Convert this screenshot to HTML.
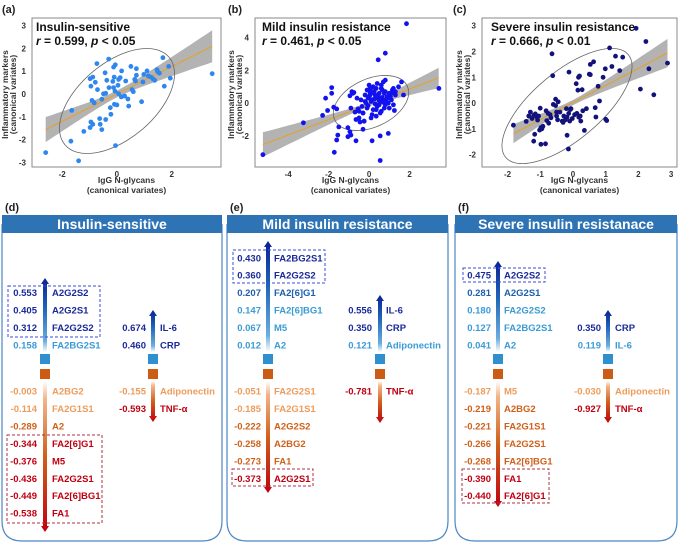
<!DOCTYPE html>
<html><head><meta charset="utf-8"><style>
body{margin:0;background:#fff;}
svg{display:block;font-family:"Liberation Sans",Arial,sans-serif;}
.tk{font-size:8px;font-weight:bold;fill:#333;}
.at{font-size:8.5px;font-weight:bold;fill:#333;}
.tt{font-size:12px;font-weight:bold;fill:#111;}
.pl{font-size:11px;font-weight:bold;fill:#222;}
.hd{font-size:14px;font-weight:bold;fill:#fff;}
.v{font-size:9.5px;font-weight:bold;}
</style></head><body>
<svg id="fig" width="678" height="543" viewBox="0 0 678 543" xmlns="http://www.w3.org/2000/svg">
<defs>
<linearGradient id="gUp" x1="0" y1="1" x2="0" y2="0"><stop offset="0" stop-color="#ffffff"/><stop offset="0.15" stop-color="#6aaee0"/><stop offset="0.6" stop-color="#1e64b8"/><stop offset="1" stop-color="#0c1f95"/></linearGradient>
<linearGradient id="gDn" x1="0" y1="0" x2="0" y2="1"><stop offset="0" stop-color="#ffffff"/><stop offset="0.12" stop-color="#f2b58a"/><stop offset="0.5" stop-color="#d0601a"/><stop offset="1" stop-color="#c00010"/></linearGradient>
</defs>
<g id="topGroup"></g>
<g id="bottomGroup"></g>
</svg>
<script>
// ---------- scatter data ----------
const aX=[-2.6,-1.4,-1.68,-1.65,-1.21,-0.73,-0.3,-0.05,3.48,1.68,1.89,1.95,1.73,-0.98,-0.88,-0.95,-0.91,-0.83,-0.95,-0.88,-0.98,-0.61,-0.55,-0.63,-0.41,-0.22,-0.24,-0.43,-0.37,-0.29,-0.49,-0.41,-0.55,-0.71,-0.79,-0.12,-0.06,-0.1,-0.15,-0.12,-0.07,0.06,0.17,0.32,0.12,0.06,-0.09,0,0.16,0.28,0.4,0.43,0.55,0.6,0.65,0.68,0.71,0.71,0.98,1.1,0.95,0.9,1.15,1.24,1.32,1.38,1.46,1.49,1.55,0.51,0.04];
const aY=[-2.57,-2.93,-2.07,-0.72,-1.64,1.33,1.53,-2.26,0.89,1.59,1.21,0.69,0.34,0.67,0.74,0.34,-0.28,-0.39,-1.23,-1.33,-1.47,-1.33,-1.56,-1.08,-1.12,-0.89,-0.6,0.93,0.6,0.28,0.01,0.03,-0.23,0.19,0.51,1.18,1.28,0.74,0.55,0.28,0.12,0.64,1.01,0.57,0.72,0.01,-0.45,-0.48,-0.13,-0.09,-0.22,-0.53,0.19,0.1,0.64,0.57,0.82,1.11,0.86,1.01,0.53,-0.34,0.79,0.74,0.66,0.6,1.07,0.98,0.91,1.21,0.38];
const bX=[-5.25,-3.25,3.45,1.85,0.8,0.45,0.55,-1.72,0.15,0.95,0.55,-0.3,-1.85,-1.85,-2.15,-2.05,-2.3,-1.75,-1.6,-1.5,-1.55,-1.6,-1.05,-0.95,-0.9,-1.05,-0.65,-0.7,-0.9,-0.55,-0.5,-0.45,-0.25,-0.3,-0.85,-0.8,-0.95,-0.6,-0.4,-0.2,-0.1,0,0.05,0.1,0.2,0.3,0.4,0.5,0.6,0.7,0.8,0.9,1.0,1.1,1.2,1.3,1.45,1.7,-0.05,0.05,0.15,0.25,0.35,0.45,0.55,0.65,0.75,0.85,0.95,1.05,1.15,-0.35,-0.15,0.1,0.3,0.5,0.7,0.9,1.1,1.3,-0.5,-0.3,-0.1,0.2,0.4,0.6,0.8,1.0,1.2,0.0,0.2,0.4,0.6,0.8,-0.2,0.15,0.35,0.55,0.75,0.25,0.45,0.65,0.05,-0.05,0.3,0.5,0.7,0.9,1.25,1.6,-0.65,-0.75,0.1,-0.25,0.35];
const bY=[-3.15,-1.2,0.9,4.85,3.05,2.65,-3.5,-3.0,-2.3,-1.85,-2.0,-1.6,0.95,0.6,0.3,-0.45,-0.75,-0.25,-0.35,-1.45,-1.95,-2.25,-1.5,-1.75,-1.95,-2.05,-2.3,-0.55,-0.3,-0.35,-0.9,-1.15,-1.1,-0.6,0.7,0.6,0.45,0.3,0.2,0.1,0.8,1.1,0.9,0.6,0.7,0.5,0.4,0.6,0.9,1.3,0.7,0.4,0.6,0.2,-0.1,0.5,1.0,0.5,0.3,0.5,0.2,0.7,0.9,0.3,0.1,0.8,0.6,0.2,0.0,0.4,0.8,-0.2,0.0,0.1,0.3,-0.1,0.2,0.0,0.6,0.7,-0.5,-0.6,-0.3,-0.4,-0.2,-0.5,-0.1,-0.3,0.9,0.4,1.0,1.2,1.1,1.4,0.5,-0.7,-0.8,-0.6,-0.3,0.25,0.45,0.35,0.65,-0.15,-0.05,0.15,0.05,0.3,-0.45,1.3,-1.0,0.65,-0.9,-1.1,-0.4];
const cX=[-1.82,-1.43,-1.2,-1.17,-1.3,-1.2,-1.15,-1.1,-1.05,-1.0,-1.25,-1.08,-0.95,-0.98,-0.92,-1.02,-0.98,-0.84,-0.8,-0.76,-0.7,-0.67,-0.82,-0.74,-0.64,-0.62,-0.53,-0.5,-0.47,-0.5,-0.18,-0.14,-0.12,-0.06,-0.13,-0.18,-0.1,-0.23,-0.33,-0.28,0.1,0.15,0.17,0.2,0.28,0.12,0.22,0.24,0.18,0.35,0.41,0.5,0.53,0.53,0.63,0.68,0.7,0.77,0.81,0.92,0.99,1.0,1.03,1.12,1.19,1.3,1.43,1.52,1.93,2.06,2.23,2.32,2.47,2.89,-0.53,-0.2,-0.08,-0.4,-0.6,-1.35,-0.02,0.05,-0.3,0.3,-0.45];
const cY=[-0.86,-0.71,-1.48,-1.21,-0.35,-0.48,-0.42,-0.55,-0.5,-0.2,-0.6,-0.66,-1.0,-0.95,-0.9,-1.05,-1.6,-1.58,-0.68,-0.4,-0.45,-0.57,-0.3,-0.78,1.91,1.06,-0.1,-0.35,-0.65,-0.5,-1.25,-1.78,1.2,-0.22,-0.4,-0.55,-0.7,-0.65,-0.7,-0.5,0.75,0.5,1.0,1.05,0.52,-0.4,-0.5,-0.7,-0.55,-1.06,-0.22,1.12,1.1,1.5,1.6,-0.18,-0.54,0.65,0.08,1.0,1.33,-0.63,-0.68,2.14,1.42,1.82,1.26,1.78,2.9,0.54,2.39,1.33,0.32,1.55,0.15,-0.22,-0.25,-0.35,-0.05,-0.5,-0.6,-0.45,-0.75,-0.3,0.05];
const aLine=[[-2.6,-1.56],[3.48,2.09]]; const aCI=[0.55,0.15,0.7];
const bLine=[[-5.25,-2.53],[3.44,1.54]]; const bCI=[0.75,0.12,0.62];
const cLine=[[-1.82,-1.19],[2.89,1.94]]; const cCI=[0.37,0.1,0.55];
const aXt=[-2,0,2], aYt=[-3,-2,-1,0,1,2,3];
const bXt=[-4,-2,0,2], bYt=[-2,0,2,4];
const cXt=[-2,-1,0,1,2,3], cYt=[-2,-1,0,1,2,3];

const NS="http://www.w3.org/2000/svg";
function mk(tag,attrs,parent,txt){const e=document.createElementNS(NS,tag);for(const k in attrs)e.setAttribute(k,attrs[k]);if(txt!==undefined)e.textContent=txt;parent.appendChild(e);return e;}

const panels=[
 {id:'a',L:32,R:221,T:18,B:167,x0:-3.1,x1:3.8,y0:-3.2,y1:3.33,X:aX,Y:aY,line:aLine,ci:aCI,xt:aXt,yt:aYt,col:'#2f86ef',title:'Insulin-sensitive',r:'0.599',p:'0.05',tx:36,ytl:2,lab:[2,13],ell:[117,101,68,38,-40]},
 {id:'b',L:255,R:446,T:18,B:167,x0:-5.64,x1:3.8,y0:-3.9,y1:5.2,X:bX,Y:bY,line:bLine,ci:bCI,xt:bXt,yt:bYt,col:'#1212ee',title:'Mild insulin resistance',r:'0.461',p:'0.05',tx:262,ytl:228,lab:[228,13],ell:[371,103,40,24,-25]},
 {id:'c',L:482,R:677,T:18,B:167,x0:-2.78,x1:3.18,y0:-2.48,y1:3.3,X:cX,Y:cY,line:cLine,ci:cCI,xt:cXt,yt:cYt,col:'#12127a',title:'Severe insulin resistance',r:'0.666',p:'0.01',tx:491,ytl:456,lab:[453,13],ell:[567,106,80,34,-40]}
];
const topG=document.getElementById('topGroup');
panels.forEach(P=>{
 const g=mk('g',{},topG);
 
 
 const sx=v=>P.L+(v-P.x0)/(P.x1-P.x0)*(P.R-P.L);
 const sy=v=>P.B-(v-P.y0)/(P.y1-P.y0)*(P.B-P.T);
 const lb=mk('text',{x:P.lab[0],y:P.lab[1],class:'pl'},g,'('+P.id+')');
 
 
 const p0=P.line[0], p1=P.line[1]; const sl=(p1[1]-p0[1])/(p1[0]-p0[0]);
 const n=30; let up=[],dn=[];
 for(let i=0;i<=n;i++){const x=p0[0]+(p1[0]-p0[0])*i/n;const y=p0[1]+sl*(x-p0[0]);
  const side=x<0?P.ci[0]:P.ci[2]; const ext=x<0?p0[0]:p1[0];
  const t=(x/ext); const hw=Math.sqrt(P.ci[1]*P.ci[1]+(side*side-P.ci[1]*P.ci[1])*t*t);
  up.push(sx(x).toFixed(1)+','+sy(y+hw).toFixed(1)); dn.unshift(sx(x).toFixed(1)+','+sy(y-hw).toFixed(1));}
 const band=mk('polygon',{points:up.concat(dn).join(' '),fill:'#9a9a9a','fill-opacity':'0.75'},g);
 
 
 const ln=mk('line',{x1:sx(p0[0]),y1:sy(p0[1]),x2:sx(p1[0]),y2:sy(p1[1]),stroke:'#e8a020','stroke-width':1},g);
 
 
 const e=P.ell;
 const el=mk('ellipse',{cx:e[0],cy:e[1],rx:e[2],ry:e[3],fill:'none',stroke:'#666','stroke-width':0.8,transform:'rotate('+e[4]+' '+e[0]+' '+e[1]+')'},g);
 
 
 P.X.forEach((x,i)=>{const c=mk('circle',{cx:sx(x).toFixed(1),cy:sy(P.Y[i]).toFixed(1),r:2.4,fill:P.col},g);
  
  });
 const fr=mk('rect',{x:P.L,y:P.T,width:P.R-P.L,height:P.B-P.T,fill:'none',stroke:'#888','stroke-width':1},g);
 
 
 P.xt.forEach(v=>{const t=mk('text',{x:sx(v),y:P.B+10,class:'tk','text-anchor':'middle'},g,v);
  
  });
 P.yt.forEach(v=>{const t=mk('text',{x:P.L-6,y:sy(v)+3,class:'tk','text-anchor':'end'},g,v);
  
  });
 const cx=(P.L+P.R)/2;
 const x1=mk('text',{x:cx,y:183,class:'at','text-anchor':'middle'},g,'IgG N-glycans');
 
 
 const x2=mk('text',{x:cx,y:193,class:'at','text-anchor':'middle'},g,'(canonical variates)');
 
 
 const cy=(P.T+P.B)/2+2;
 const y1=mk('text',{x:0,y:0,class:'at','text-anchor':'middle',transform:'translate('+(P.ytl+6)+','+cy+') rotate(-90)'},g,'Inflammatory markers');
 
 
 const y2=mk('text',{x:0,y:0,class:'at','text-anchor':'middle',transform:'translate('+(P.ytl+14)+','+cy+') rotate(-90)'},g,'(canonical variates)');
 
 
 const t1=mk('text',{x:P.tx,y:31,class:'tt'},g,P.title);
 
 
 const t2=mk('text',{x:P.tx,y:45,class:'tt'},g);
 
 
 mk('tspan',{'font-style':'italic'},t2,'r');
 t2.appendChild(document.createTextNode(' = '+P.r+', '));
 mk('tspan',{'font-style':'italic'},t2,'p');
 t2.appendChild(document.createTextNode(' < '+P.p));
});

// ---------- loading diagrams ----------
const C={d:'#1a2a9a',m:'#1f5fb0',l:'#3b9bd6',lo:'#ee9c5c',o:'#d0601a',r:'#c00010'};
const dGly=[['0.553','A2G2S2','d'],['0.405','A2G2S1','d'],['0.312','FA2G2S2','d'],['0.158','FA2BG2S1','l']];
const dGlyN=[['-0.003','A2BG2','lo'],['-0.114','FA2G1S1','lo'],['-0.289','A2','o'],['-0.344','FA2[6]G1','r'],['-0.376','M5','r'],['-0.436','FA2G2S1','r'],['-0.449','FA2[6]BG1','r'],['-0.538','FA1','r']];
const dInf=[['0.674','IL-6','d'],['0.460','CRP','d']]; const dInfN=[['-0.155','Adiponectin','lo'],['-0.593','TNF-α','r']];
const eGly=[['0.430','FA2BG2S1','d'],['0.360','FA2G2S2','d'],['0.207','FA2[6]G1','m'],['0.147','FA2[6]BG1','l'],['0.067','M5','l'],['0.012','A2','l']];
const eGlyN=[['-0.051','FA2G2S1','lo'],['-0.185','FA2G1S1','lo'],['-0.222','A2G2S2','o'],['-0.258','A2BG2','o'],['-0.273','FA1','o'],['-0.373','A2G2S1','r']];
const eInf=[['0.556','IL-6','d'],['0.350','CRP','d'],['0.121','Adiponectin','l']]; const eInfN=[['-0.781','TNF-α','r']];
const fGly=[['0.475','A2G2S2','d'],['0.281','A2G2S1','m'],['0.180','FA2G2S2','l'],['0.127','FA2BG2S1','l'],['0.041','A2','l']];
const fGlyN=[['-0.187','M5','lo'],['-0.219','A2BG2','o'],['-0.221','FA2G1S1','o'],['-0.266','FA2G2S1','o'],['-0.268','FA2[6]BG1','o'],['-0.390','FA1','r'],['-0.440','FA2[6]G1','r']];
const fInf=[['0.350','CRP','d'],['0.119','IL-6','l']]; const fInfN=[['-0.030','Adiponectin','lo'],['-0.927','TNF-α','r']];

const boxes=[
 {id:'d',L:2,R:222,title:'Insulin-sensitive',ax:45,vx:37,lx:52,ytop:278,ybot:532,gp:dGly,gn:dGlyN,ix:153,ivx:146,ilx:160,itop:310,ibot:422,ip:dInf,inn:dInfN,bb:[8,286,100,337],rb:[7,435,102,523]},
 {id:'e',L:227,R:448,title:'Mild insulin resistance',ax:268,vx:261,lx:274,ytop:241,ybot:493,gp:eGly,gn:eGlyN,ix:380,ivx:372,ilx:386,itop:295,ibot:423,ip:eInf,inn:eInfN,bb:[233,250,325,283],rb:[232,469,313,486]},
 {id:'f',L:455,R:677,title:'Severe insulin resistanace',ax:498,vx:491,lx:504,ytop:261,ybot:507,gp:fGly,gn:fGlyN,ix:608,ivx:601,ilx:615,itop:310,ibot:423,ip:fInf,inn:fInfN,bb:[463,268,545,282],rb:[462,469,549,503]}
];
const botG=document.getElementById('bottomGroup');
function arrow(g,x,t,b){
 const up=mk('path',{d:'M'+(x-2)+',352 L'+(x-2)+','+(t+6)+' L'+(x-4)+','+(t+6)+' L'+x+','+t+' L'+(x+4)+','+(t+6)+' L'+(x+2)+','+(t+6)+' L'+(x+2)+',352 Z',fill:'url(#gUp)'},g);
 
 
 const dn=mk('path',{d:'M'+(x-2)+',381 L'+(x-2)+','+(b-6)+' L'+(x-4)+','+(b-6)+' L'+x+','+b+' L'+(x+4)+','+(b-6)+' L'+(x+2)+','+(b-6)+' L'+(x+2)+',381 Z',fill:'url(#gDn)'},g);
 
 
 const s1=mk('rect',{x:x-5,y:354,width:10,height:10,fill:'#2f8fcf'},g);
 
 
 const s2=mk('rect',{x:x-5,y:369,width:10,height:10,fill:'#cc5c14'},g);
 
 
}
function rows(g,list,vx,lx,startY,positive){
 const n=list.length;
 list.forEach((r,i)=>{const y=(positive?startY-(n-1-i)*17.45:startY+i*17.45)+3.5;
  const v=mk('text',{x:vx,y:y,class:'v','text-anchor':'end',fill:C[r[2]]},g,r[0]);
  
  
  const l=mk('text',{x:lx,y:y,class:'v',fill:C[r[2]]},g,r[1]);
  
  });
}
boxes.forEach(B=>{
 const g=mk('g',{},botG);
 
 
 const lb=mk('text',{x:B.L+3,y:211,class:'pl'},g,'('+B.id+')');
 
 
 const r=20;
 const ol=mk('path',{d:'M'+B.L+',224 L'+B.L+','+(541-r)+' Q'+B.L+',541 '+(B.L+r)+',541 L'+(B.R-r)+',541 Q'+B.R+',541 '+B.R+','+(541-r)+' L'+B.R+',224',fill:'none',stroke:'#4a86c5','stroke-width':1.2},g);
 
 
 const hb=mk('rect',{x:B.L,y:215,width:B.R-B.L,height:18,fill:'#2e74b5'},g);
 
 
 const ht=mk('text',{x:(B.L+B.R)/2,y:229,class:'hd','text-anchor':'middle'},g,B.title);
 
 
 arrow(g,B.ax,B.ytop,B.ybot); arrow(g,B.ix,B.itop,B.ibot);
 rows(g,B.gp,B.vx,B.lx,345,true); rows(g,B.gn,B.vx,B.lx,391,false);
 rows(g,B.ip,B.ivx,B.ilx,345,true); rows(g,B.inn,B.ivx,B.ilx,391,false);
 const b1=mk('rect',{x:B.bb[0],y:B.bb[1],width:B.bb[2]-B.bb[0],height:B.bb[3]-B.bb[1],fill:'none',stroke:'#3a4ee0','stroke-width':1,'stroke-dasharray':'3,2'},g);
 
 
 const b2=mk('rect',{x:B.rb[0],y:B.rb[1],width:B.rb[2]-B.rb[0],height:B.rb[3]-B.rb[1],fill:'none',stroke:'#b03040','stroke-width':1,'stroke-dasharray':'3,2'},g);
 
 
});
</script>
</body></html>
